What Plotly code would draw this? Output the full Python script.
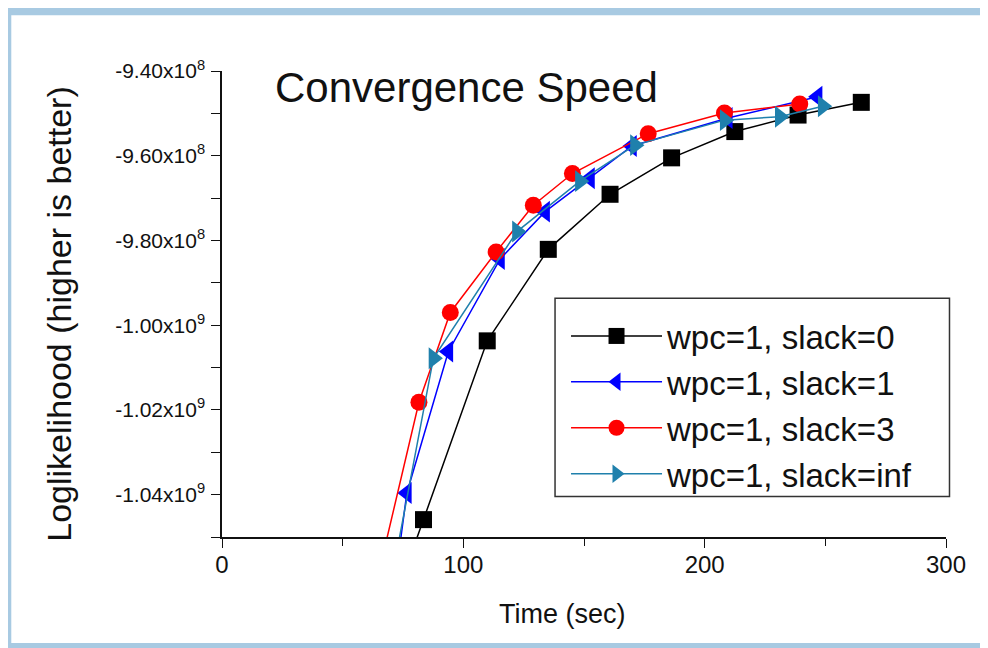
import plotly.graph_objects as go

# ---------------- data ----------------
series_names = ["wpc=1, slack=0", "wpc=1, slack=1", "wpc=1, slack=3", "wpc=1, slack=inf"]

time_slack0 = [71.7, 83.5, 109.9, 135.2, 160.8, 186.3, 212.5, 238.7, 264.9]
ll_slack0 = [-1.0647e9, -1.0459e9, -1.0037e9, -9.821e8, -9.691e8, -9.605e8, -9.543e8, -9.504e8, -9.474e8]

time_slack1 = [70.7, 76.6, 93.8, 115.2, 133.9, 152.5, 169.9, 209.6, 246.8]
ll_slack1 = [-1.0647e9, -1.0396e9, -1.0062e9, -9.844e8, -9.732e8, -9.653e8, -9.577e8, -9.511e8, -9.461e8]

time_slack3 = [62.4, 81.6, 94.6, 113.6, 129.0, 145.2, 176.6, 208.2, 239.4]
ll_slack3 = [-1.0647e9, -1.0182e9, -9.970e8, -9.827e8, -9.717e8, -9.642e8, -9.548e8, -9.499e8, -9.478e8]

time_slackinf = [68.7, 87.6, 122.2, 148.3, 171.1, 208.3, 231.1, 248.9]
ll_slackinf = [-1.0647e9, -1.0078e9, -9.779e8, -9.660e8, -9.575e8, -9.516e8, -9.508e8, -9.483e8]

x_tickvals = [0, 100, 200, 300]
x_ticktext = ["0", "100", "200", "300"]
y_tickvals = [-1.04e9, -1.02e9, -1.00e9, -9.8e8, -9.6e8, -9.4e8]
y_ticktext = ["-1.04x10<sup>9</sup>", "-1.02x10<sup>9</sup>", "-1.00x10<sup>9</sup>",
              "-9.80x10<sup>8</sup>", "-9.60x10<sup>8</sup>", "-9.40x10<sup>8</sup>"]

# ---------------- layout geometry (page pixels; page body has an 8px margin) ----------------
OFF = 8
W, H = 988 - OFF, 648 - OFF
L, R, T, B = 221.5, 946.5, 70.7, 537.3          # plot area in page pixels
FONT = "Liberation Sans, Arial, sans-serif"


def px(x):
    return (x - L) / (R - L)


def py(y):
    return (B - y) / (B - T)


styles = [
    dict(color="#000000", symbol="square", size=17),
    dict(color="#0000FF", symbol="triangle-left", size=19),
    dict(color="#FF0000", symbol="circle", size=17),
    dict(color="#1F80AC", symbol="triangle-right", size=19),
]
xs = [time_slack0, time_slack1, time_slack3, time_slackinf]
ys = [ll_slack0, ll_slack1, ll_slack3, ll_slackinf]

fig = go.Figure()
for name, x, y, st in zip(series_names, xs, ys, styles):
    fig.add_trace(go.Scatter(
        x=x, y=y, name=name, mode="lines+markers",
        line=dict(color=st["color"], width=1.5),
        marker=dict(color=st["color"], symbol=st["symbol"], size=st["size"], line=dict(width=0)),
    ))

axis_common = dict(
    showline=True, linecolor="#111111", linewidth=1.5, mirror=False,
    showgrid=False, zeroline=False,
    ticks="outside", ticklen=9, tickwidth=1.3, tickcolor="#111111",
)

fig.update_xaxes(range=[0, 300], tickvals=x_tickvals, ticktext=x_ticktext,
                 tickfont=dict(family=FONT, size=24, color="#111111"), ticklabelstandoff=-4,
                 minor=dict(ticks="outside", ticklen=7, tickwidth=1.3, tickcolor="#111111", dtick=50),
                 **axis_common)
fig.update_yaxes(range=[-1.05e9, -9.4e8], tickvals=y_tickvals, ticktext=y_ticktext,
                 tickfont=dict(family=FONT, size=21, color="#111111"), ticklabelstandoff=2,
                 minor=dict(ticks="outside", ticklen=9, tickwidth=1.3, tickcolor="#111111", dtick=1e7),
                 **axis_common)

frame_color = "#A8CAE2"
shapes = [
    dict(type="rect", xref="paper", yref="paper", x0=px(6), x1=px(1000), y0=py(15), y1=py(4),
         fillcolor=frame_color, line=dict(width=0), layer="below"),
    dict(type="rect", xref="paper", yref="paper", x0=px(4), x1=px(10.5), y0=py(647), y1=py(6),
         fillcolor=frame_color, line=dict(width=0), layer="below"),
    dict(type="rect", xref="paper", yref="paper", x0=px(6), x1=px(1000), y0=py(650), y1=py(643.5),
         fillcolor=frame_color, line=dict(width=0), layer="below"),
    # legend box
    dict(type="rect", xref="paper", yref="paper", x0=px(555), x1=px(950), y0=py(496.7), y1=py(298.3),
         fillcolor="white", line=dict(color="#333333", width=1.5), layer="below"),
]

annotations = [
    dict(text="Convergence Speed", xref="paper", yref="paper", x=px(273), y=py(87),
         xanchor="left", yanchor="middle", showarrow=False,
         font=dict(family=FONT, size=42, color="#111111")),
    dict(text="Loglikelihood (higher is better)", xref="paper", yref="paper", x=px(58), y=py(314),
         xanchor="center", yanchor="middle", textangle=-90, showarrow=False,
         font=dict(family=FONT, size=34, color="#111111")),
    dict(text="Time (sec)", xref="paper", yref="paper", x=px(562), y=py(614),
         xanchor="center", yanchor="middle", showarrow=False,
         font=dict(family=FONT, size=27, color="#111111")),
]

fig.update_layout(
    width=W, height=H,
    margin=dict(l=L - OFF, r=W - (R - OFF), t=T - OFF, b=H - (B - OFF), pad=0),
    paper_bgcolor="white", plot_bgcolor="white",
    showlegend=True,
    legend=dict(x=px(566), y=py(308), xanchor="left", yanchor="top",
                bgcolor="rgba(0,0,0,0)", borderwidth=0,
                font=dict(family=FONT, size=33, color="#111111"),
                itemwidth=91, tracegroupgap=0),
    shapes=shapes, annotations=annotations,
)

fig.write_html("out.html")
